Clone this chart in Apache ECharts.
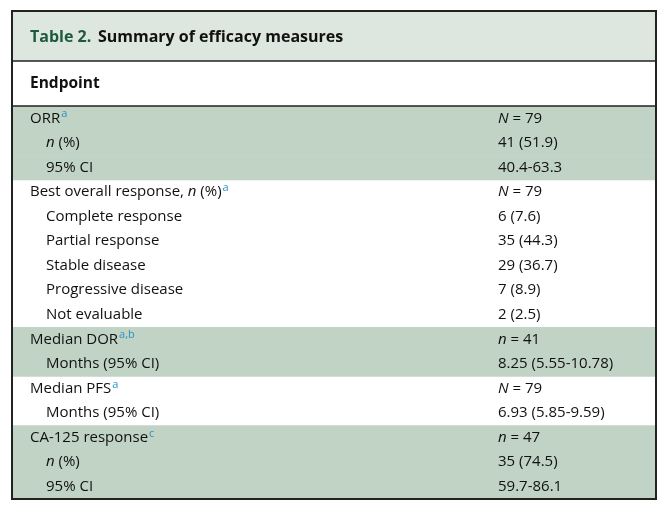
<!DOCTYPE html>
<html><head><meta charset="utf-8">
<script src="https://cdn.jsdelivr.net/npm/echarts@6/dist/echarts.min.js"></script>
<style>html,body{margin:0;background:#fff}#c{width:668px;height:505px}</style>
</head><body><div id="c"></div>
<script>
// 表格内容
var titleLead = 'Table 2.'
var titleText = 'Summary of efficacy measures'
var headerText = 'Endpoint'
// 行标签（富文本）
var rowLabels = [
	'ORR{s|a}', '{i|n} (%)', '95% CI',
	'Best overall response, {i|n} (%){s|a}', 'Complete response', 'Partial response', 'Stable disease', 'Progressive disease', 'Not evaluable',
	'Median DOR{s|a,b}', 'Months (95% CI)',
	'Median PFS{s|a}', 'Months (95% CI)',
	'CA-125 response{s|c}', '{i|n} (%)', '95% CI'
]
var rowValues = [
	'{i|N} = 79', '41 (51.9)', '40.4-63.3',
	'{i|N} = 79', '6 (7.6)', '35 (44.3)', '29 (36.7)', '7 (8.9)', '2 (2.5)',
	'{i|n} = 41', '8.25 (5.55-10.78)',
	'{i|N} = 79', '6.93 (5.85-9.59)',
	'{i|n} = 47', '35 (74.5)', '59.7-86.1'
]
var rowIndent = [0,1,1, 0,1,1,1,1,1, 0,1, 0,1, 0,1,1]
var rowShaded = [1,1,1, 0,0,0,0,0,0, 1,1, 0,0, 1,1,1]

var L = 12, R = 656, T = 11, B = 499
var rowTop = 106, rowH = (B - rowTop) / rowLabels.length
var font = '"Open Sans", sans-serif'
var fs = 15
var rich = {
	i: { fontStyle: 'italic', fontSize: fs, fontFamily: font, fill: '#111' },
	s: { fontSize: 11, fontFamily: font, fill: '#2b93c6', verticalAlign: 'top', padding: [0,0,8,1] }
}
var els = []
els.push({ type: 'rect', shape: { x: L, y: T, width: R - L, height: 50 }, style: { fill: '#dde6df' } })
els.push({ type: 'rect', shape: { x: L, y: 61, width: R - L, height: 45 }, style: { fill: '#fff' } })
rowLabels.forEach(function (lab, k) {
	var y = rowTop + k * rowH
	if (rowShaded[k]) els.push({ type: 'rect', shape: { x: L, y: y, width: R - L, height: rowH + 0.5 }, style: { fill: '#c0d3c5' } })
	els.push({ type: 'text', x: rowIndent[k] ? 46 : 30, y: y + rowH / 2, style: { text: lab, rich: rich, font: fs + 'px ' + font, fill: '#111', verticalAlign: 'middle' } })
	els.push({ type: 'text', x: 498, y: y + rowH / 2, style: { text: rowValues[k], rich: rich, font: fs + 'px ' + font, fill: '#111', verticalAlign: 'middle' } })
})
els.push({ type: 'text', x: 30, y: 37, style: { text: '{g|' + titleLead + '}  {b|' + titleText + '}', verticalAlign: 'middle', rich: {
	g: { fontSize: 16, fontWeight: 'bold', fontFamily: font, fill: '#1c5a3c' },
	b: { fontSize: 16, fontWeight: 'bold', fontFamily: font, fill: '#111' } } } })
els.push({ type: 'text', x: 30, y: 84, style: { text: headerText, font: 'bold 15.5px ' + font, fill: '#111', verticalAlign: 'middle' } })
els.push({ type: 'line', shape: { x1: L, y1: 61, x2: R, y2: 61 }, style: { stroke: '#222', lineWidth: 1.5 } })
els.push({ type: 'line', shape: { x1: L, y1: 106, x2: R, y2: 106 }, style: { stroke: '#222', lineWidth: 1.5 } })
els.push({ type: 'rect', shape: { x: L, y: T, width: R - L, height: B - T }, style: { fill: 'none', stroke: '#222', lineWidth: 2 } })

var chart = echarts.init(document.getElementById('c'))
chart.setOption({ animation: false, graphic: { elements: els } })
</script></body></html>
